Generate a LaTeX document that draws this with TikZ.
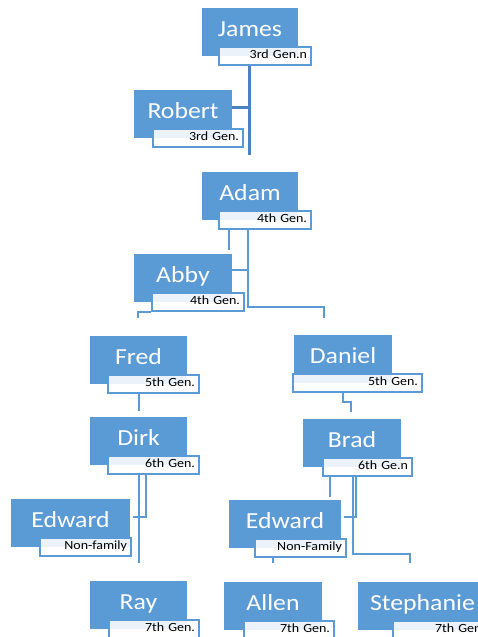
\documentclass[tikz,border=0pt]{standalone}
\usepackage{fontspec}
\setmainfont{Carlito}[FakeStretch=1.12]
\usetikzlibrary{calc}
\definecolor{boxblue}{HTML}{5B9BD5}
\definecolor{linkdark}{HTML}{4A84BF}
\pgfdeclarelayer{links}
\pgfsetlayers{links,main}
\tikzset{
  namebox/.style={draw=none, fill=boxblue, text=white, inner sep=0pt,
    minimum height=48pt, text height=12pt, text depth=4pt,
    font=\fontsize{23}{23}\selectfont},
  genbox/.style={draw=boxblue, line width=2pt, fill=white, fill opacity=0.88,
    draw opacity=1, text opacity=1, text=black, inner xsep=4pt, inner ysep=0pt,
    minimum height=18pt, align=right, text height=7pt, text depth=3pt,
    font=\fontsize{12.5}{12.5}\selectfont},
  link/.style={draw=boxblue, line width=2.3pt},
  linkmain/.style={draw=linkdark, line width=3pt},
}
% \famnode{id}{box left}{box right}{box top}{tag left}{tag right}{name}{tag text}
\newcommand{\famnode}[8]{%
  \pgfmathsetlengthmacro\fnbw{(#3)-(#2)}%
  \pgfmathsetlengthmacro\fngw{(#6)-(#5)}%
  \pgfmathsetlengthmacro\fntw{(#6)-(#5)-8}%
  \node[namebox, minimum width=\fnbw] (#1) at ({((#2)+(#3))/2},{(#4)+24}) {#7};
  \node[genbox, minimum width=\fngw, text width=\fntw] (#1-l)
    at ({((#5)+(#6))/2},{(#4)+48}) {#8};
}
\begin{document}
\begin{tikzpicture}[x=1pt, y=-1pt]
\useasboundingbox (0,0) rectangle (478,637);
\clip (0,0) rectangle (478,637);

% family members
\famnode{James}{202}{298}{8}{219}{311}{James}{3rd Gen.n}
\famnode{Robert}{134}{232}{90}{153}{243}{Robert}{3rd Gen.}
\famnode{Adam}{202}{298}{172}{219}{311}{Adam}{4th Gen.}
\famnode{Abby}{134}{232}{254}{152}{244}{Abby}{4th Gen.}
\famnode{Fred}{90}{187}{336}{108}{199}{Fred}{5th Gen.}
\famnode{Daniel}{294}{392}{335}{293}{422}{Daniel}{5th Gen.}
\famnode{Dirk}{90}{187}{417}{108}{199}{Dirk}{6th Gen.}
\famnode{Brad}{303}{401}{419}{323}{412}{Brad}{6th Ge.n}
\famnode{EdwardL}{11}{130}{499}{40}{131}{Edward}{Non-family}
\famnode{EdwardR}{229}{341}{500}{255}{346}{Edward}{Non-Family}
\famnode{Ray}{90}{187}{581}{109}{199}{Ray}{7th Gen.}
\famnode{Allen}{224}{322}{582}{244}{334}{Allen}{7th Gen.}
\famnode{Stephanie}{358}{487}{582}{393}{489}{Stephanie}{7th Gen.}

% bend points and open ends of the connectors
\coordinate (jend) at (249,155);
\coordinate (a1) at (229,250);
\coordinate (a2) at (248,307);
\coordinate (a3) at (324,318);
\coordinate (b1) at (138,318);
\coordinate (f1) at (139,411);
\coordinate (d1) at (343,402);
\coordinate (d2) at (351,412);
\coordinate (k1) at (139,563);
\coordinate (k2) at (146,517);
\coordinate (r1) at (330,497);
\coordinate (r2) at (353,554);
\coordinate (r3) at (410,563);
\coordinate (r4) at (356,517);
\coordinate (e1) at (273,563);

\begin{pgfonlayer}{links}
  \draw[linkmain] (jend |- James-l.south) -- (jend);
  \draw[linkmain] ([yshift=7pt]Robert.east) -- ([yshift=7pt]Robert.east -| jend);

  \draw[link] (a1 |- Adam-l.south) -- (a1);
  \draw[link] (a2 |- Adam-l.south) -- (a2) -| (a3);
  \draw[link] ([yshift=8pt]Abby.east) -- ([yshift=8pt]Abby.east -| a2);
  \draw[link] (Abby-l.south west) -| (b1);

  \draw[link] (f1 |- Fred-l.south) -- (f1);
  \draw[link] (d1 |- Daniel-l.south) -- (d1) -| (d2);

  \draw[link] (k1 |- Dirk-l.south) -- (k1);
  \draw[link] (k2 |- Dirk-l.south) -- (k2) -- ([xshift=3pt]EdwardL.east |- k2);

  \draw[link] (r1 |- Brad-l.south) -- (r1);
  \draw[link] (r2 |- Brad-l.south) -- (r2) -| (r3);
  \draw[link] (r4 |- Brad-l.south) -- (r4) -- ([xshift=3pt]EdwardR.east |- r4);

  \draw[link] (e1 |- EdwardR-l.south) -- (e1);
\end{pgfonlayer}
\end{tikzpicture}
\end{document}
